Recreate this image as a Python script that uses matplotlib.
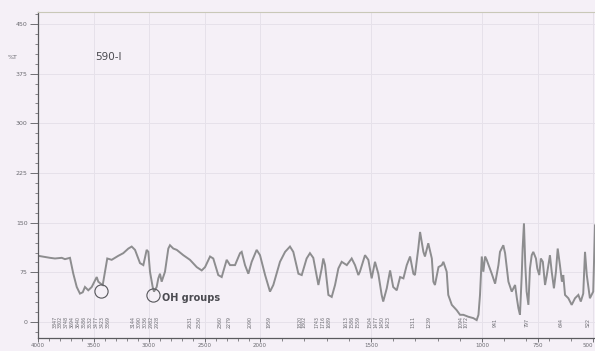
import numpy as np
import matplotlib
matplotlib.use("Agg")
import matplotlib.pyplot as plt
from matplotlib.ticker import FixedLocator, MultipleLocator

# FTIR spectrum of sample 590-I (wavenumber in cm-1, transmittance)
wavenumber = [3997, 3892, 3847, 3786, 3757, 3712, 3682, 3651, 3622, 3597, 3577, 3547, 3516, 3471,
              3457, 3435, 3417, 3396, 3376, 3336, 3306, 3277, 3232, 3186, 3156, 3126, 3081, 3051,
              3021, 3006, 2991, 2967, 2955, 2931, 2916, 2901, 2886, 2856, 2826, 2811, 2781, 2750,
              2691, 2631, 2570, 2525, 2495, 2450, 2421, 2376, 2345, 2300, 2270, 2225, 2180, 2165,
              2135, 2105, 2075, 2030, 2000, 1977, 1955, 1940, 1910, 1887, 1865, 1850, 1827, 1812,
              1790, 1775, 1760, 1737, 1722, 1715, 1707, 1692, 1677, 1662, 1647, 1632, 1609, 1587,
              1572, 1557, 1550, 1527, 1512, 1497, 1482, 1467, 1452, 1445, 1429, 1414, 1400, 1384,
              1369, 1354, 1339, 1324, 1309, 1302, 1287, 1279, 1264, 1257, 1242, 1226, 1219, 1212,
              1196, 1181, 1174, 1159, 1152, 1136, 1114, 1099, 1084, 1061, 1039, 1024, 1016, 1009,
              1001, 994, 986, 979, 956, 941, 926, 919, 904, 896, 881, 866, 851, 843, 836, 829,
              821, 817, 811, 805, 799, 791, 784, 776, 769, 757, 751, 742, 735, 726, 716, 708,
              701, 694, 686, 676, 667, 659, 649, 640, 634, 626, 611, 596, 581, 566, 555, 544,
              536, 528, 514, 499, 491]
transmittance = [100, 97, 96, 97, 95, 97, 73, 53, 43, 45, 53, 48, 53, 68,
                 61, 58, 56, 76, 96, 94, 97, 100, 104, 111, 114, 109, 89, 86,
                 109, 106, 76, 53, 46, 53, 66, 73, 61, 76, 111, 116, 111, 109,
                 101, 94, 83, 78, 83, 99, 96, 71, 68, 94, 86, 86, 104, 106,
                 86, 73, 91, 109, 101, 71, 46, 56, 91, 106, 114, 106, 73, 71,
                 96, 104, 97, 56, 81, 96, 86, 41, 38, 56, 81, 91, 86, 96,
                 86, 71, 76, 101, 94, 66, 91, 73, 41, 31, 51, 78, 53, 48,
                 68, 66, 86, 99, 73, 71, 111, 136, 106, 99, 119, 96, 61, 56,
                 83, 86, 91, 76, 41, 26, 18, 11, 11, 8, 6, 3, 11, 41,
                 99, 76, 99, 94, 73, 58, 86, 106, 116, 104, 61, 46, 56, 36, 21, 11,
                 71, 111, 149, 86, 46, 26, 81, 101, 106, 96, 81, 71, 96, 91, 56, 71,
                 86, 101, 76, 51, 76, 111, 86, 61, 71, 41, 36, 26, 36, 41, 31, 43,
                 106, 71, 36, 46, 146]

# picked peak positions printed along the baseline
peak_labels = [3847, 3802, 3748, 3694, 3640, 3586, 3532, 3477, 3423, 3369, 3144, 3090, 3036,
               2982, 2928, 2631, 2550, 2360, 2279, 2090, 1959, 1820, 1802, 1743, 1716, 1689,
               1613, 1586, 1559, 1504, 1477, 1450, 1423, 1311, 1239, 1094, 1072, 941, 797,
               644, 522]

# O-H bands
oh_bands = [3432, 2964]
oh_values = [47, 41]

x_ticks = [4000, 3500, 3000, 2500, 2000, 1500, 1000, 750, 500]
y_ticks = [0, 75, 150, 225, 300, 375, 450]


def fwd(w):
    # expanded scale below 2000 cm-1
    w = np.asarray(w, dtype=float)
    return np.where(w >= 2000, w, 2000 + (w - 2000) * 2)


def inv(u):
    u = np.asarray(u, dtype=float)
    return np.where(u >= 2000, u, 2000 + (u - 2000) / 2)


paper = "#f5f0f7"
ink = "#5a5a5e"

fig = plt.figure(figsize=(5.95, 3.51), dpi=100, facecolor=paper)
ax = fig.add_axes([38 / 595, 13 / 351, 557 / 595, 326 / 351], facecolor=paper)
ax.set_xscale("function", functions=(fwd, inv))
ax.set_xlim(4000, 491)
ax.set_ylim(-24, 468)

ax.xaxis.set_major_locator(FixedLocator(x_ticks))
ax.xaxis.set_minor_locator(MultipleLocator(100))
ax.yaxis.set_major_locator(FixedLocator(y_ticks))
ax.yaxis.set_minor_locator(MultipleLocator(15))
ax.grid(True, which="major", color="#e6e1ea", lw=0.7)
ax.set_axisbelow(True)

ax.tick_params(which="major", direction="out", width=0.6, color=ink,
               labelsize=4.5, labelcolor="#6a6a70")
ax.tick_params(axis="y", which="major", length=6, pad=1.5)
ax.tick_params(axis="x", which="major", length=3, pad=0.5, labelsize=4)
ax.tick_params(which="minor", direction="out", length=2.5, width=0.5, color=ink)
for side in ("left", "bottom"):
    ax.spines[side].set_color(ink)
    ax.spines[side].set_linewidth(0.9)
ax.spines["top"].set_color("#c9c8b8")
ax.spines["top"].set_linewidth(0.8)
ax.spines["right"].set_visible(False)

# keep the last wavenumber label inside the frame
fig.canvas.draw()
ax.get_xticklabels()[-1].set_horizontalalignment("right")

ax.plot(wavenumber, transmittance, color="#8d8d8f", lw=1.4, solid_joinstyle="miter")

for w in peak_labels:
    ax.text(w, 0, str(w), rotation=90, ha="center", va="center", fontsize=3.4,
            color="#6a6a70")

ax.plot(oh_bands, oh_values, ls="none", marker="o", ms=9.5, mfc="none",
        mec="#55555a", mew=0.8)
ax.text(2880, 36, "OH groups", fontsize=7, fontweight="bold", color="#4a4a50",
        va="center", ha="left")

ax.text(3369, 400, "590-I", fontsize=7.5, color="#4a4a50", ha="center", va="center")
ax.text(-0.045, 0.86, "%T", transform=ax.transAxes, fontsize=4.5, color="#6a6a70",
        ha="center", va="center")

fig.savefig("out.png", dpi=100, facecolor=paper)
